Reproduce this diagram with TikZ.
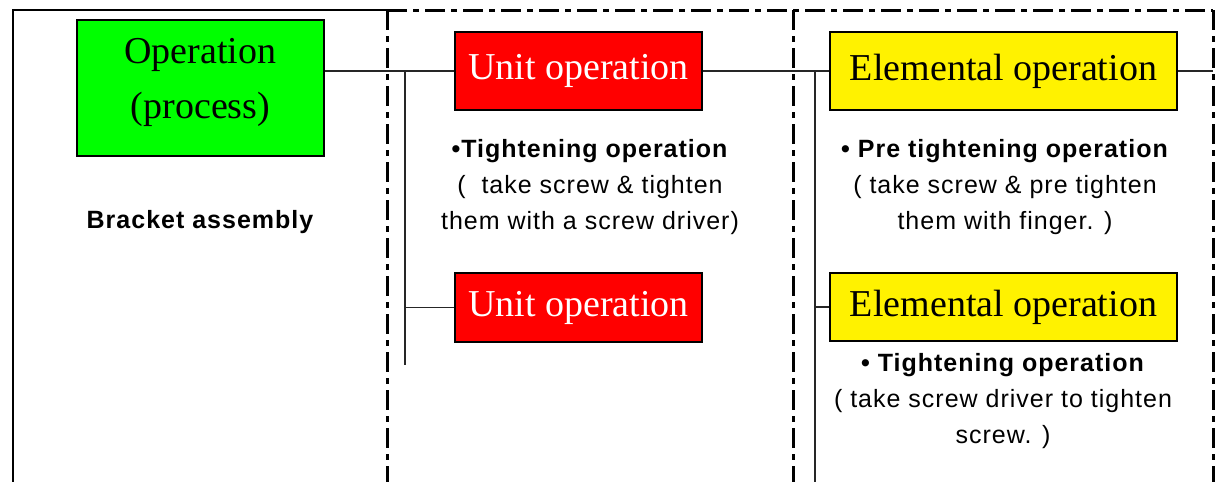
\documentclass[tikz,border=0pt]{standalone}
\usepackage{fontspec}
\setmainfont{Liberation Serif}
\newfontfamily\descfont[LetterSpace=4]{Liberation Sans}
\begin{document}
\begin{tikzpicture}[x=1pt,y=-1pt,
  opbox/.style={draw=black, line width=1.8pt, inner sep=0pt, align=center,
    font=\fontsize{38}{55}\selectfont},
  procbox/.style={opbox, fill=green, minimum width=247, minimum height=136},
  unitbox/.style={opbox, fill=red, text=white, minimum width=247, minimum height=78},
  elembox/.style={opbox, fill=yellow, minimum width=347, minimum height=78},
  desc/.style={font=\descfont\fontsize{25}{36}\selectfont, align=center, inner sep=0pt},
  wire/.style={draw=black!85, line width=1.6pt},
  solidframe/.style={draw=black, line width=2.5pt},
  dashframe/.style={draw=black, line width=3pt, dash pattern=on 20pt off 6pt on 6pt off 6pt}
]
\useasboundingbox (0,0) rectangle (1216,482);

% boxes
\node[procbox] (op) at (200.5,88) {Operation\\(process)\rule[-20pt]{0pt}{20pt}};
\node[unitbox] (u1) at (578.5,71) {Unit operation};
\node[unitbox, minimum height=69] (u2) at (578.5,307.5) {Unit operation};
\node[elembox] (e1) at (1003.5,71) {Elemental operation};
\node[elembox, minimum height=68] (e2) at (1003.5,307) {Elemental operation};

% descriptions
\node[desc, anchor=base] (ba) at (200,228) {\bfseries Bracket assembly};
\node[desc, anchor=north] (d1) at (590,139.1)
  {\textbf{•Tightening operation}\\(~~take screw \& tighten\\them with a screw driver)};
\node[desc, anchor=north] (d2) at (1005,139.1)
  {\textbf{• Pre tightening operation}\\( take screw \& pre tighten\\them with finger. )};
\node[desc, anchor=north] (d3) at (1003,353.1)
  {\textbf{• Tightening operation}\\( take screw driver to tighten\\screw. )};

% connectors
\coordinate (b1top) at (405,71);
\coordinate (b1bot) at (405,365);
\coordinate (b2top) at (815,71);
\coordinate (b2bot) at (815,482);
\coordinate (rim) at (1213,71);
\draw[wire] (op.east |- u1.west) -- (u1.west);
\draw[wire] (b1top) -- (b1bot);
\draw[wire] (b1top |- u2.west) -- (u2.west);
\draw[wire] (u1.east) -- (e1.west);
\draw[wire] (b2top) -- (b2bot);
\draw[wire] (b2top |- e2.west) -- (e2.west);
\draw[wire] (e1.east) -- (rim);

% frames
\coordinate (fA) at (13,10);
\coordinate (fB) at (387,10);
\coordinate (fC) at (793,10);
\coordinate (fD) at (1213,10);
\draw[solidframe] (fA |- 0,482) -- (fA) -- (fB);
\draw[dashframe] (fB) -- (fD);
\draw[dashframe] (fB) -- (fB |- 0,482);
\draw[dashframe] (fC) -- (fC |- 0,482);
\draw[dashframe] (fD) -- (fD |- 0,482);
\end{tikzpicture}
\end{document}
